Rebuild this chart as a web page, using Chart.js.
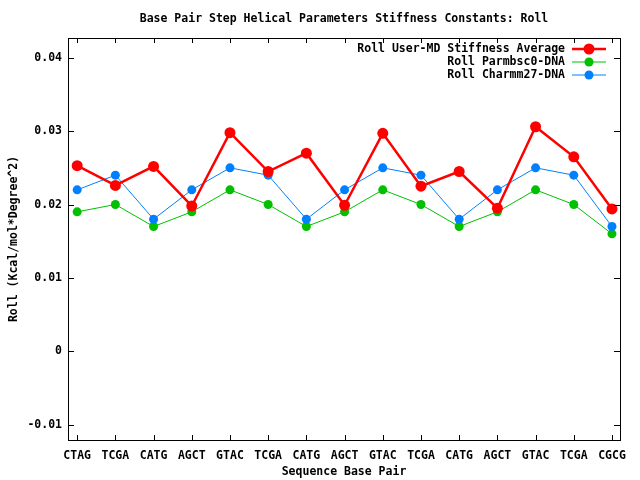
<!DOCTYPE html>
<html>
<head>
<meta charset="utf-8">
<script src="https://cdn.jsdelivr.net/npm/chart.js@4/dist/chart.umd.min.js"></script>
<style>
  html, body { margin: 0; padding: 0; background: #fff; }
  #wrap { width: 640px; height: 480px; }
</style>
</head>
<body>
<div id="wrap"><canvas id="myChart" width="640" height="480"></canvas></div>
<script>
// values
const steps = ['CTAG', 'TCGA', 'CATG', 'AGCT', 'GTAC', 'TCGA', 'CATG', 'AGCT',
               'GTAC', 'TCGA', 'CATG', 'AGCT', 'GTAC', 'TCGA', 'CGCG'];
const userMD = [0.0253, 0.0226, 0.0252, 0.0198, 0.0298, 0.0245, 0.0270, 0.0199,
                0.0297, 0.0225, 0.0245, 0.0195, 0.0306, 0.0265, 0.0194];
const parmbsc0 = [0.019, 0.020, 0.017, 0.019, 0.022, 0.020, 0.017, 0.019,
                  0.022, 0.020, 0.017, 0.019, 0.022, 0.020, 0.016];
const charmm27 = [0.022, 0.024, 0.018, 0.022, 0.025, 0.024, 0.018, 0.022,
                  0.025, 0.024, 0.018, 0.022, 0.025, 0.024, 0.017];
const yTicks = [-0.01, 0, 0.01, 0.02, 0.03, 0.04];
const seriesNames = ['Roll User-MD Stiffness Average', 'Roll Parmbsc0-DNA', 'Roll Charmm27-DNA'];
const chartTitle = 'Base Pair Step Helical Parameters Stiffness Constants: Roll';

const FONT = '"DejaVu Sans Mono", "Liberation Mono", monospace';

function toPoints(arr) {
    return arr.map((v, i) => ({ x: i, y: v }));
}

// gnuplot style frame: title over the plot, border box, inward ticks on all sides, legend inside
const framePlugin = {
    id: 'frame',
    afterDatasetsDraw(chart) {
        const { ctx, chartArea: a, scales } = chart;
        ctx.save();
        ctx.fillStyle = '#000';
        ctx.font = 'bold 11.5px ' + FONT;
        ctx.textAlign = 'center';
        ctx.textBaseline = 'middle';
        ctx.fillText(chartTitle, (a.left + a.right) / 2, 19);

        ctx.strokeStyle = '#000';
        ctx.lineWidth = 1;
        ctx.strokeRect(Math.round(a.left) + 0.5, Math.round(a.top) + 0.5,
                       Math.round(a.right - a.left), Math.round(a.bottom - a.top));
        ctx.beginPath();
        scales.x.ticks.forEach(t => {
            const px = Math.round(scales.x.getPixelForValue(t.value)) + 0.5;
            ctx.moveTo(px, a.bottom); ctx.lineTo(px, a.bottom - 5);
            ctx.moveTo(px, a.top); ctx.lineTo(px, a.top + 5);
        });
        scales.y.ticks.forEach(t => {
            const py = Math.round(scales.y.getPixelForValue(t.value)) + 0.5;
            ctx.moveTo(a.left, py); ctx.lineTo(a.left + 6, py);
            ctx.moveTo(a.right, py); ctx.lineTo(a.right - 6, py);
        });
        ctx.stroke();

        // legend
        ctx.textAlign = 'right';
        chart.data.datasets.forEach((ds, i) => {
            const y = 49 + i * 13;
            ctx.fillStyle = '#000';
            ctx.fillText(seriesNames[i], 565, y);
            ctx.strokeStyle = ds.borderColor;
            ctx.lineWidth = ds.borderWidth;
            ctx.beginPath();
            ctx.moveTo(572, y); ctx.lineTo(606, y);
            ctx.stroke();
            ctx.fillStyle = ds.pointBackgroundColor;
            ctx.beginPath();
            ctx.arc(589, y, ds.pointRadius, 0, Math.PI * 2);
            ctx.fill();
        });
        ctx.restore();
    }
};

const chart = new Chart(document.getElementById('myChart'), {
    type: 'line',
    data: {
        datasets: [{
            label: seriesNames[0],
            data: toPoints(userMD),
            borderColor: '#ff0000',
            backgroundColor: '#ff0000',
            pointBackgroundColor: '#ff0000',
            pointBorderWidth: 0,
            borderWidth: 2.5,
            pointRadius: 5.5,
            order: 1
        }, {
            label: seriesNames[1],
            data: toPoints(parmbsc0),
            borderColor: '#00c000',
            backgroundColor: '#00c000',
            pointBackgroundColor: '#00c000',
            pointBorderWidth: 0,
            borderWidth: 1,
            pointRadius: 4.5,
            order: 3
        }, {
            label: seriesNames[2],
            data: toPoints(charmm27),
            borderColor: '#0080ff',
            backgroundColor: '#0080ff',
            pointBackgroundColor: '#0080ff',
            pointBorderWidth: 0,
            borderWidth: 1,
            pointRadius: 4.5,
            order: 2
        }]
    },
    options: {
        responsive: false,
        animation: false,
        events: [],
        layout: { padding: { top: 38, right: 20, left: 0, bottom: 0 } },
        elements: { line: { tension: 0 } },
        plugins: {
            legend: { display: false },
            tooltip: { enabled: false },
            title: { display: false }
        },
        scales: {
            x: {
                type: 'linear',
                min: -0.24,
                max: 14.21,
                afterBuildTicks: s => { s.ticks = steps.map((_, i) => ({ value: i })); },
                afterFit: s => { s.height = 40; },
                grid: { display: false, drawTicks: false },
                border: { display: false },
                ticks: {
                    color: '#000',
                    padding: 9,
                    maxRotation: 0,
                    autoSkip: false,
                    font: { family: FONT, size: 11.5, weight: 'bold' },
                    callback: v => steps[v]
                },
                title: {
                    display: true,
                    text: 'Sequence Base Pair',
                    color: '#000',
                    padding: { top: 2, bottom: 1 },
                    font: { family: FONT, size: 11.5, weight: 'bold' }
                }
            },
            y: {
                min: -0.0121,
                max: 0.0427,
                afterBuildTicks: s => { s.ticks = yTicks.map(v => ({ value: v })); },
                afterFit: s => { s.width = 68; },
                grid: { display: false, drawTicks: false },
                border: { display: false },
                ticks: {
                    color: '#000',
                    padding: 6,
                    font: { family: FONT, size: 11.5, weight: 'bold' },
                    callback: v => (Math.abs(v) < 1e-9 ? '0' : String(Math.round(v * 100) / 100))
                },
                title: {
                    display: true,
                    text: 'Roll (Kcal/mol*Degree^2)',
                    color: '#000',
                    padding: { top: 7, bottom: 0 },
                    font: { family: FONT, size: 11.5, weight: 'bold' }
                }
            }
        }
    },
    plugins: [framePlugin]
});
</script>
</body>
</html>
